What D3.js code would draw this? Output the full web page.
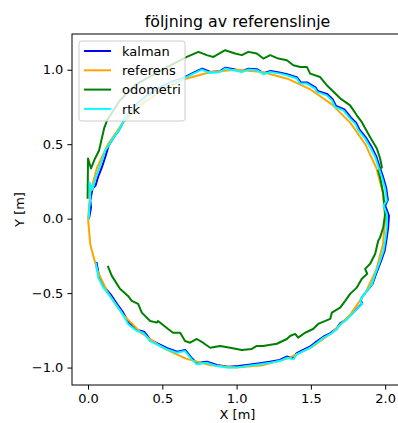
<!DOCTYPE html>
<html>
<head>
<meta charset="utf-8">
<script src="https://cdn.jsdelivr.net/npm/d3@7"></script>
<style>
  body { margin: 0; background: #fff; }
  text { font-family: "DejaVu Sans", sans-serif; }
</style>
</head>
<body>
<div id="chart"></div>
<script>
const width = 398
const height = 423

// data, [x, y] in metres
const referens = [
  [0, 0], [0.015, 0.174], [0.060, 0.342], [0.134, 0.5], [0.234, 0.643], [0.357, 0.766],
  [0.5, 0.866], [0.658, 0.940], [0.826, 0.985], [1, 1], [1.174, 0.985], [1.342, 0.940],
  [1.5, 0.866], [1.643, 0.766], [1.766, 0.643], [1.866, 0.5], [1.940, 0.342], [1.985, 0.174],
  [2, 0], [1.985, -0.174], [1.940, -0.342], [1.866, -0.5], [1.766, -0.643], [1.643, -0.766],
  [1.5, -0.866], [1.342, -0.940], [1.174, -0.985], [1, -1], [0.826, -0.985], [0.658, -0.940],
  [0.5, -0.866], [0.357, -0.766], [0.234, -0.643], [0.134, -0.5], [0.060, -0.342], [0.015, -0.174], [0, 0]
]

const rtk = [
  [0.005, 0.005], [0.009, 0.076], [0.015, 0.144], [0.010, 0.242], [0.030, 0.195], [0.054, 0.283],
  [0.094, 0.391], [0.116, 0.458], [0.139, 0.492], [0.173, 0.547], [0.207, 0.593], [0.249, 0.673],
  [0.316, 0.754], [0.397, 0.822], [0.485, 0.875], [0.566, 0.916], [0.620, 0.929], [0.709, 0.974],
  [0.766, 1.001], [0.822, 0.978], [0.889, 0.985], [0.923, 1.008], [0.978, 0.997], [1.035, 0.985],
  [1.079, 1.001], [1.136, 0.997], [1.180, 0.970], [1.226, 0.985], [1.293, 0.974], [1.338, 0.963],
  [1.405, 0.941], [1.428, 0.907], [1.473, 0.907], [1.529, 0.873], [1.540, 0.851], [1.607, 0.828],
  [1.641, 0.795], [1.663, 0.750], [1.719, 0.727], [1.764, 0.671], [1.798, 0.638], [1.820, 0.593],
  [1.865, 0.537], [1.899, 0.480], [1.933, 0.413], [1.955, 0.345], [1.978, 0.278], [2.000, 0.200],
  [2.011, 0.121], [1.989, 0.088], [2.011, 0.032], [2.011, -0.059], [2.000, -0.148], [1.989, -0.215],
  [1.966, -0.283], [1.933, -0.372], [1.911, -0.440], [1.877, -0.485], [1.843, -0.530], [1.832, -0.552],
  [1.845, -0.572], [1.798, -0.619], [1.764, -0.653], [1.731, -0.687], [1.697, -0.709], [1.675, -0.743],
  [1.630, -0.776], [1.585, -0.799], [1.540, -0.833], [1.495, -0.867], [1.450, -0.889], [1.405, -0.911],
  [1.382, -0.945], [1.338, -0.934], [1.293, -0.956], [1.226, -0.968], [1.158, -0.978], [1.069, -0.990],
  [1.012, -0.997], [0.945, -1.001], [0.867, -0.990], [0.799, -0.968], [0.732, -0.978], [0.698, -0.945],
  [0.653, -0.889], [0.597, -0.900], [0.530, -0.877], [0.485, -0.855], [0.418, -0.822], [0.372, -0.766],
  [0.328, -0.754], [0.271, -0.709], [0.227, -0.631], [0.193, -0.586], [0.148, -0.519], [0.103, -0.463],
  [0.069, -0.395], [0.054, -0.305]
]

const kalman = [
  [0.007, 0.003], [0.020, 0.076], [0.015, 0.121], [0.030, 0.202], [0.050, 0.222], [0.067, 0.278],
  [0.094, 0.347], [0.116, 0.414], [0.139, 0.492], [0.175, 0.549], [0.210, 0.598], [0.252, 0.678],
  [0.318, 0.760], [0.399, 0.828], [0.487, 0.881], [0.568, 0.922], [0.622, 0.935], [0.711, 0.980],
  [0.768, 1.007], [0.824, 0.985], [0.891, 0.992], [0.925, 1.014], [0.980, 1.004], [1.037, 0.992],
  [1.081, 1.007], [1.138, 1.003], [1.182, 0.977], [1.228, 0.991], [1.295, 0.980], [1.340, 0.970],
  [1.408, 0.948], [1.432, 0.915], [1.477, 0.914], [1.533, 0.880], [1.545, 0.858], [1.612, 0.835],
  [1.646, 0.802], [1.669, 0.757], [1.725, 0.733], [1.770, 0.678], [1.804, 0.644], [1.826, 0.600],
  [1.872, 0.542], [1.906, 0.486], [1.940, 0.418], [1.962, 0.350], [1.985, 0.283], [2.007, 0.205],
  [2.018, 0.126], [2.000, 0.088], [2.025, 0.020], [2.020, -0.060], [2.007, -0.150], [1.996, -0.217],
  [1.972, -0.285], [1.938, -0.372], [1.915, -0.438], [1.880, -0.482], [1.845, -0.526], [1.835, -0.548],
  [1.846, -0.568], [1.800, -0.615], [1.765, -0.648], [1.731, -0.681], [1.697, -0.703], [1.674, -0.737],
  [1.629, -0.770], [1.584, -0.793], [1.538, -0.826], [1.493, -0.860], [1.448, -0.882], [1.403, -0.904],
  [1.380, -0.938], [1.336, -0.926], [1.291, -0.949], [1.224, -0.961], [1.157, -0.971], [1.069, -0.983],
  [1.012, -0.990], [0.945, -0.994], [0.867, -0.983], [0.800, -0.961], [0.733, -0.970], [0.699, -0.938],
  [0.655, -0.882], [0.600, -0.893], [0.533, -0.870], [0.488, -0.847], [0.422, -0.815], [0.377, -0.759],
  [0.333, -0.747], [0.276, -0.702], [0.232, -0.624], [0.199, -0.579], [0.154, -0.512], [0.108, -0.456],
  [0.074, -0.388], [0.058, -0.298]
]

const odometri = [
  [-0.003, 0.141], [0.0, 0.404], [0.020, 0.337], [0.047, 0.404], [0.074, 0.458], [0.108, 0.606],
  [0.128, 0.660], [0.215, 0.795], [0.316, 0.896], [0.418, 0.956], [0.519, 1.010], [0.665, 1.086],
  [0.743, 1.120], [0.799, 1.098], [0.844, 1.086], [0.923, 1.131], [0.990, 1.109], [1.035, 1.098],
  [1.079, 1.120], [1.136, 1.109], [1.180, 1.075], [1.226, 1.098], [1.281, 1.075], [1.338, 1.064],
  [1.382, 1.030], [1.428, 1.019], [1.473, 1.019], [1.495, 0.974], [1.562, 0.951], [1.607, 0.896],
  [1.697, 0.808], [1.764, 0.761], [1.809, 0.694], [1.843, 0.648], [1.899, 0.547], [1.944, 0.471],
  [1.966, 0.404], [1.978, 0.345], [1.953, 0.323], [1.966, 0.278], [1.987, 0.168], [2.000, 0.034],
  [1.987, -0.059], [1.966, -0.126], [1.953, -0.148], [1.933, -0.236], [1.899, -0.303], [1.865, -0.337],
  [1.879, -0.370], [1.843, -0.404], [1.809, -0.463], [1.764, -0.505], [1.731, -0.552], [1.697, -0.597],
  [1.641, -0.631], [1.630, -0.673], [1.549, -0.707], [1.515, -0.741], [1.461, -0.766], [1.414, -0.799],
  [1.394, -0.774], [1.360, -0.788], [1.338, -0.808], [1.271, -0.840], [1.178, -0.855], [1.136, -0.855],
  [1.102, -0.875], [1.035, -0.882], [0.956, -0.867], [0.889, -0.855], [0.822, -0.867], [0.774, -0.833],
  [0.732, -0.808], [0.687, -0.833], [0.653, -0.822], [0.620, -0.766], [0.572, -0.766], [0.539, -0.741],
  [0.471, -0.687], [0.463, -0.698], [0.418, -0.687], [0.362, -0.631], [0.337, -0.572], [0.294, -0.552],
  [0.269, -0.519], [0.215, -0.471], [0.160, -0.384], [0.135, -0.323]
]

const xTicks = [0, 0.5, 1.0, 1.5, 2.0]
const yTicks = [-1.0, -0.5, 0.0, 0.5, 1.0]

const series = [
  { name: 'kalman', data: kalman, color: 'blue' },
  { name: 'referens', data: referens, color: 'orange' },
  { name: 'odometri', data: odometri, color: 'green' },
  { name: 'rtk', data: rtk, color: 'cyan' }
]

const margin = { left: 72, top: 34, right: 403, bottom: 385 }

const x = d3.scaleLinear().domain([-0.108, 2.12]).range([margin.left, margin.right])
const y = d3.scaleLinear().domain([-1.117, 1.24]).range([margin.bottom, margin.top])

const fmt = d => d3.format('.1f')(d).replace('-', '\u2212')

const svg = d3.select('#chart')
  .append('svg')
  .attr('width', width)
  .attr('height', height)

svg.append('clipPath')
  .attr('id', 'clip')
  .append('rect')
  .attr('x', margin.left)
  .attr('y', margin.top)
  .attr('width', margin.right - margin.left)
  .attr('height', margin.bottom - margin.top)

const line = d3.line().x(d => x(d[0])).y(d => y(d[1]))

const lines = svg.append('g').attr('clip-path', 'url(#clip)')
series.forEach(s => {
  lines.append('path')
    .attr('d', line(s.data))
    .attr('fill', 'none')
    .attr('stroke', s.color)
    .attr('stroke-width', 2)
    .attr('stroke-linejoin', 'round')
    .attr('stroke-linecap', 'square')
})

// axes
const xAxis = svg.append('g')
  .attr('transform', `translate(0, ${margin.bottom})`)
  .call(d3.axisBottom(x).tickValues(xTicks).tickFormat(fmt).tickSizeOuter(0).tickSize(4.6).tickPadding(4))
const yAxis = svg.append('g')
  .attr('transform', `translate(${margin.left}, 0)`)
  .call(d3.axisLeft(y).tickValues(yTicks).tickFormat(fmt).tickSizeOuter(0).tickSize(4.6).tickPadding(4))

;[xAxis, yAxis].forEach(a => {
  a.select('.domain').remove()
  a.selectAll('text').attr('font-size', 13).attr('fill', '#000').style('font-family', '"DejaVu Sans", sans-serif')
  a.selectAll('line').attr('stroke', '#000').attr('stroke-width', 1)
})

// spines
svg.append('rect')
  .attr('x', margin.left)
  .attr('y', margin.top)
  .attr('width', margin.right - margin.left)
  .attr('height', margin.bottom - margin.top)
  .attr('fill', 'none')
  .attr('stroke', '#000')
  .attr('stroke-width', 1)

svg.append('text')
  .attr('x', (margin.left + margin.right) / 2)
  .attr('y', 27)
  .attr('text-anchor', 'middle')
  .attr('font-size', 15.8)
  .text('följning av referenslinje')

svg.append('text')
  .attr('x', (margin.left + margin.right) / 2)
  .attr('y', 419)
  .attr('text-anchor', 'middle')
  .attr('font-size', 13)
  .text('X [m]')

svg.append('text')
  .attr('transform', `translate(24, ${(margin.top + margin.bottom) / 2}) rotate(-90)`)
  .attr('text-anchor', 'middle')
  .attr('font-size', 13)
  .text('Y [m]')

// legend
const legend = svg.append('g').attr('transform', 'translate(79, 41)')
legend.append('rect')
  .attr('width', 106)
  .attr('height', 80)
  .attr('rx', 2.5)
  .attr('fill', 'rgba(255,255,255,0.8)')
  .attr('stroke', '#cccccc')
  .attr('stroke-width', 1)

series.forEach((s, i) => {
  const yy = 10 + i * 19.3
  legend.append('line')
    .attr('x1', 5).attr('x2', 32)
    .attr('y1', yy).attr('y2', yy)
    .attr('stroke', s.color)
    .attr('stroke-width', 2)
  legend.append('text')
    .attr('x', 43)
    .attr('y', yy + 4.6)
    .attr('font-size', 13)
    .text(s.name)
})
</script>
</body>
</html>
